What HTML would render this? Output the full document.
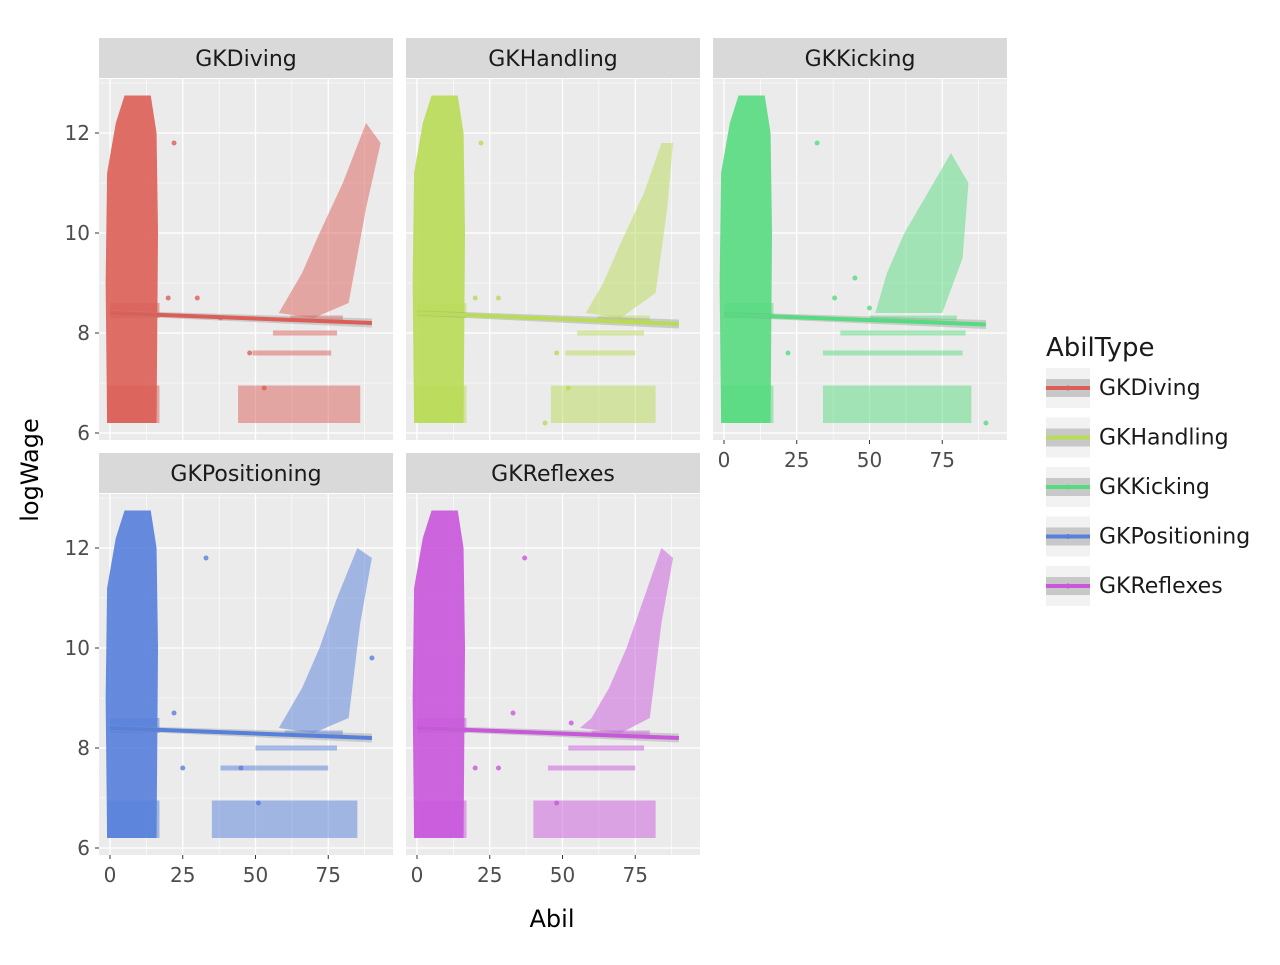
<!DOCTYPE html>
<html><head><meta charset="utf-8"><style>
body{margin:0;background:#fff}
svg text{font-family:"DejaVu Sans","Liberation Sans",sans-serif}
</style></head><body>
<svg id="chart" width="1280" height="960" xmlns="http://www.w3.org/2000/svg">
<g id="plot"></g>
<text x="38" y="470" font-size="24" text-anchor="middle" transform="rotate(-90 38 470)">logWage</text>
<text x="552" y="927" font-size="24" text-anchor="middle">Abil</text>
<g id="legend"></g>
</svg>
<script>
const panelNames=["GKDiving","GKHandling","GKKicking","GKPositioning","GKReflexes"];
const panelColors=["#db5f57","#b9db57","#57db80","#5780db","#c957db"];
const xTicks=[0,25,50,75];
const yTicks=[6,8,10,12];
// left cluster outline (Abil, logWage)
const leftCluster=[[-1,6.2],[16,6.2],[16.5,10],[16,12],[14,12.75],[5,12.75],[2,12.2],[-1,11.2],[-1.5,9]];
// horizontal wage bands [x0,x1,y0,y1]
const bands=[
 [[-1,17,6.2,6.95],[44,86,6.2,6.95],[49,76,7.55,7.65],[56,78,7.95,8.05],[62,80,8.25,8.35],[0,17,8.3,8.6]],
 [[-1,17,6.2,6.95],[46,82,6.2,6.95],[51,75,7.55,7.65],[55,78,7.95,8.05],[62,80,8.25,8.35],[0,17,8.3,8.6]],
 [[-1,17,6.2,6.95],[34,85,6.2,6.95],[34,82,7.55,7.65],[40,83,7.95,8.05],[50,80,8.25,8.35],[0,17,8.3,8.6]],
 [[-1,17,6.2,6.95],[35,85,6.2,6.95],[38,75,7.55,7.65],[50,78,7.95,8.05],[60,80,8.25,8.35],[0,17,8.3,8.6]],
 [[-1,17,6.2,6.95],[40,82,6.2,6.95],[45,75,7.55,7.65],[52,78,7.95,8.05],[60,80,8.25,8.35],[0,17,8.3,8.6]]
];
// rising cloud outline per panel
const clouds=[
 [[58,8.4],[70,8.3],[82,8.6],[88,10.5],[93,11.8],[88,12.2],[80,11],[72,10],[66,9.2],[60,8.6]],
 [[58,8.4],[70,8.3],[82,8.8],[86,10.5],[88,11.8],[84,11.8],[78,10.8],[70,9.8],[64,9.0],[60,8.6]],
 [[52,8.4],[75,8.4],[82,9.5],[84,11],[78,11.6],[70,10.8],[62,10],[56,9.2]],
 [[58,8.4],[70,8.3],[82,8.6],[86,10.5],[90,11.8],[85,12],[78,11],[72,10],[66,9.2],[60,8.6]],
 [[56,8.4],[70,8.3],[80,8.6],[84,10.5],[88,11.8],[84,12],[78,11],[72,10],[66,9.2],[60,8.6]]
];
// scattered outliers [Abil, logWage]
const outliersX=[[22,20,30,48,53,38],[22,20,28,48,52,44],[32,22,38,45,50,90],[33,22,25,45,51,90],[37,33,20,28,48,53]];
const outliersY=[[11.8,8.7,8.7,7.6,6.9,8.3],[11.8,8.7,8.7,7.6,6.9,6.2],[11.8,7.6,8.7,9.1,8.5,6.2],[11.8,8.7,7.6,7.6,6.9,9.8],[11.8,8.7,7.6,7.6,6.9,8.5]];
// regression [intercept, value at 90]
const regStart=[8.4,8.4,8.37,8.4,8.4];
const regEnd=[8.2,8.18,8.17,8.2,8.2];

const NS="http://www.w3.org/2000/svg";
const plot=document.getElementById('plot');
function mk(tag,attrs,parent){const e=document.createElementNS(NS,tag);for(const k in attrs)e.setAttribute(k,attrs[k]);parent.appendChild(e);return e;}
const colX=[99,406,713],rowY=[79,494],PW=294,PH=361;
panelNames.forEach((name,i)=>{
 const c=i%3,r=Math.floor(i/3),px=colX[c],py=rowY[r];
 const sx=v=>px+11+v*2.91, sy=v=>py+354-(v-6)*50;
 const g=mk('g',{},plot);
 
 
 const strip=mk('rect',{x:px,y:py-41,width:PW,height:40,fill:'#d9d9d9'},g);
 
 
 const st=mk('text',{x:px+PW/2,y:py-13,'font-size':22,'text-anchor':'middle',fill:'#1a1a1a'},g);st.textContent=name;
 
 
 mk('rect',{x:px,y:py,width:PW,height:PH,fill:'#ebebeb'},g);
 [12.5,37.5,62.5,87.5].forEach(v=>mk('line',{x1:sx(v),x2:sx(v),y1:py,y2:py+PH,stroke:'#fff','stroke-width':0.6},g));
 [7,9,11,13].forEach(v=>mk('line',{x1:px,x2:px+PW,y1:sy(v),y2:sy(v),stroke:'#fff','stroke-width':0.6},g));
 xTicks.forEach(v=>mk('line',{x1:sx(v),x2:sx(v),y1:py,y2:py+PH,stroke:'#fff','stroke-width':1.3},g));
 yTicks.forEach(v=>mk('line',{x1:px,x2:px+PW,y1:sy(v),y2:sy(v),stroke:'#fff','stroke-width':1.3},g));
 const col=panelColors[i];
 const pts=a=>a.map(p=>sx(p[0])+','+sy(p[1])).join(' ');
 const lc=mk('polygon',{points:pts(leftCluster),fill:col,'fill-opacity':0.9},g);
 
 
 bands[i].forEach(b=>{const e=mk('rect',{x:sx(b[0]),y:sy(b[3]),width:sx(b[1])-sx(b[0]),height:sy(b[2])-sy(b[3]),fill:col,'fill-opacity':0.5},g);
  
  });
 const cl=mk('polygon',{points:pts(clouds[i]),fill:col,'fill-opacity':0.5},g);
 
 
 outliersX[i].forEach((x,j)=>{const e=mk('circle',{cx:sx(x),cy:sy(outliersY[i][j]),r:2.5,fill:col,'fill-opacity':0.8},g);
  
  });
 mk('polygon',{points:`${sx(0)},${sy(regStart[i]+0.05)} ${sx(90)},${sy(regEnd[i]+0.09)} ${sx(90)},${sy(regEnd[i]-0.09)} ${sx(0)},${sy(regStart[i]-0.05)}`,fill:'#999','fill-opacity':0.4},g);
 const rl=mk('line',{x1:sx(0),y1:sy(regStart[i]),x2:sx(90),y2:sy(regEnd[i]),stroke:col,'stroke-width':4},g);
 
 
 if(c===0){yTicks.forEach(v=>{mk('line',{x1:px-4,x2:px,y1:sy(v),y2:sy(v),stroke:'#333'},g);
  const t=mk('text',{x:px-9,y:sy(v)+7,'font-size':20,'text-anchor':'end',fill:'#4d4d4d'},g);t.textContent=v;
  
  });}
 if(r===1||c===2){xTicks.forEach(v=>{mk('line',{x1:sx(v),x2:sx(v),y1:py+PH,y2:py+PH+4,stroke:'#333'},g);
  const t=mk('text',{x:sx(v),y:py+PH+27,'font-size':20,'text-anchor':'middle',fill:'#4d4d4d'},g);t.textContent=v;
  
  });}
});
const lg=document.getElementById('legend');
const lt=mk('text',{x:1046,y:356,'font-size':26,fill:'#1a1a1a'},lg);lt.textContent="AbilType";


panelNames.forEach((n,i)=>{
 const y=368+i*49.5;
 const g=mk('g',{},lg);
 
 
 mk('rect',{x:1046,y:y,width:44,height:40,fill:'#f2f2f2'},g);
 mk('rect',{x:1046,y:y+11,width:44,height:18,fill:'#c8c8c8'},g);
 mk('line',{x1:1046,x2:1090,y1:y+20,y2:y+20,stroke:panelColors[i],'stroke-width':4},g);
 mk('circle',{cx:1068,cy:y+20,r:2.5,fill:panelColors[i]},g);
 const t=mk('text',{x:1099,y:y+27,'font-size':22,fill:'#1a1a1a'},g);t.textContent=n;
});
</script>
</body></html>
